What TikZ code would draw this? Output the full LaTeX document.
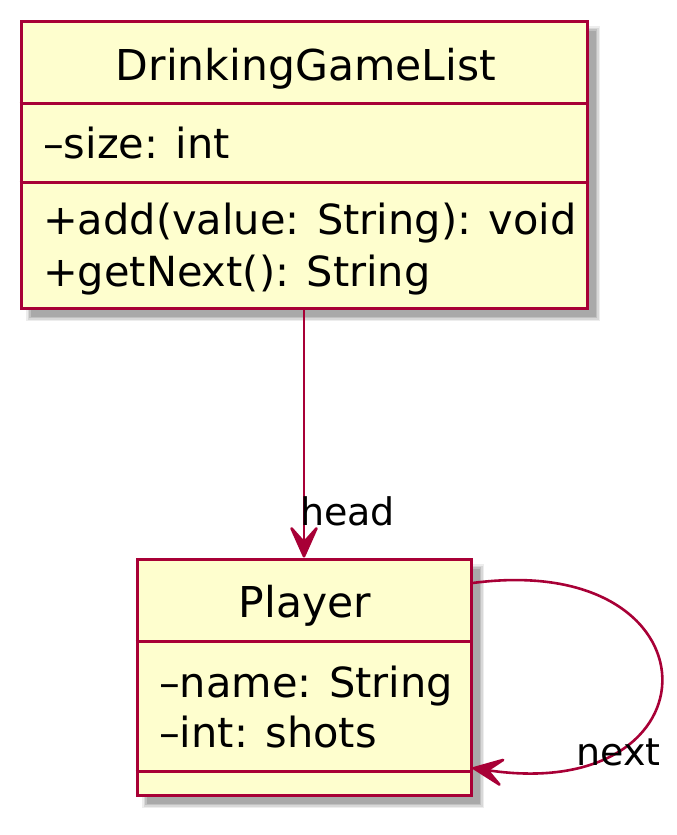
\documentclass[tikz,border=0pt]{standalone}
\usepackage{fontspec}
\setmainfont{DejaVu Sans}
\usetikzlibrary{arrows.meta}
\definecolor{umlfill}{HTML}{FEFECE}
\definecolor{umlline}{HTML}{A80036}
\begin{document}
\begin{tikzpicture}[x=1pt,y=-1pt,
  classbox/.style={draw=umlline, fill=umlfill, line width=3pt, rectangle, inner sep=0pt},
  sepline/.style={draw=umlline, line width=3pt},
  memtext/.style={anchor=base west, inner sep=0pt, font=\fontsize{41.5}{52}\selectfont},
  titletext/.style={anchor=base, inner sep=0pt, font=\fontsize{42.5}{52}\selectfont},
  lbltext/.style={anchor=base west, inner sep=0pt, font=\fontsize{38}{46}\selectfont},
  conn/.style={draw=umlline, line width=2.6pt, -{Stealth[length=38pt,width=34pt,inset=19pt,round]}},
  shadowfill/.style={fill=black, opacity=#1}
]
\useasboundingbox (0,0) rectangle (677,835);
% shadows
\foreach \d/\o in {4/0.07,2.5/0.09,1/0.11,-0.5/0.12}{
  \fill[shadowfill=\o] (21+9-\d,21+9-\d) rectangle (587+9+\d,308+9+\d);
  \fill[shadowfill=\o] (137+9-\d,559+9-\d) rectangle (471+9+\d,795+9+\d);
}
% DrinkingGameList
\node[classbox, minimum width=566pt, minimum height=287pt] (dgl) at (304,164.5) {};
\coordinate (s1) at (0,103);
\coordinate (s2) at (0,182);
\draw[sepline] (dgl.west |- s1) -- (dgl.east |- s1);
\draw[sepline] (dgl.west |- s2) -- (dgl.east |- s2);
\node[titletext] (dglt) at (306,80) {DrinkingGameList};
\node[memtext] (dgla) at (43,158) {–size: int};
\node[memtext] (dglm1) at (43,234) {+add(value: String): void};
\node[memtext] (dglm2) at (43,286) {+getNext(): String};
% Player
\node[classbox, minimum width=334pt, minimum height=236pt] (pl) at (304,677) {};
\coordinate (s3) at (0,641);
\coordinate (s4) at (0,771);
\draw[sepline] (pl.west |- s3) -- (pl.east |- s3);
\draw[sepline] (pl.west |- s4) -- (pl.east |- s4);
\node[titletext] (plt) at (305,617) {Player};
\node[memtext] (pla1) at (159,697) {–name: String};
\node[memtext] (pla2) at (159,747) {–int: shots};
% connectors
\draw[conn] (dgl.south) -- (pl.north);
\node[lbltext] (head) at (300,525) {head};
\coordinate (ls) at (0,583);
\coordinate (le) at (0,768);
\draw[conn] (pl.east |- ls) .. controls (723,550) and (723,805) .. (pl.east |- le);
\node[lbltext] (next) at (576,765) {next};
\end{tikzpicture}
\end{document}
